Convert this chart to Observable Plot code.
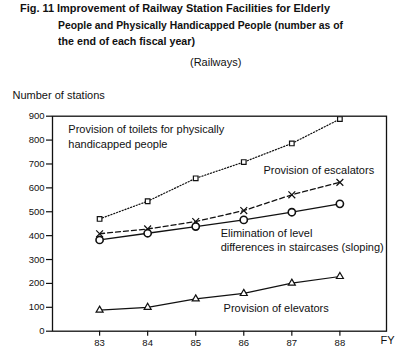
<!DOCTYPE html>
<html><head><meta charset="utf-8">
<script src="https://cdn.jsdelivr.net/npm/d3@7"></script>
<script src="https://cdn.jsdelivr.net/npm/@observablehq/plot@0.6"></script>
<style>
body{margin:0;background:#fff;font-family:"Liberation Sans",Arial,sans-serif;color:#111}
#wrap{position:relative;width:409px;height:355px;overflow:hidden}
#head{position:relative;height:80px}
.t{position:absolute;white-space:nowrap;font-weight:bold;font-size:10.7px;line-height:1;transform-origin:0 0}
.r{position:absolute;white-space:nowrap;font-size:11px;line-height:1}
svg{display:block}
</style></head>
<body><div id="wrap">
<div id="head">
<div class="t" id="t1" style="left:20px;top:2.7px">Fig. 11 Improvement of Railway Station Facilities for Elderly</div>
<div class="t" id="t2" style="left:58px;top:20.3px">People and Physically Handicapped People (number as of</div>
<div class="t" id="t3" style="left:58px;top:36px">the end of each fiscal year)</div>
<div class="r" style="left:190px;top:56.7px">(Railways)</div>
</div>
<div id="chart"></div>
</div>
<script>
const years = [83, 84, 85, 86, 87, 88];
const yTicks = [0, 100, 200, 300, 400, 500, 600, 700, 800, 900];
const toilets = [470, 544, 640, 708, 786, 888];
const escalators = [408, 428, 459, 505, 571, 623];
const levels = [382, 410, 438, 466, 498, 533];
const elevators = [88, 100, 135, 158, 201, 229];
const seriesNames = ["toilets", "escalators", "levels", "elevators"];
const labelTexts = [
  "Provision of toilets for physically\nhandicapped people",
  "Provision of escalators",
  "Elimination of level\ndifferences in staircases (sloping)",
  "Provision of elevators"
];
const labelYear = [82.35, 86.41, 85.52, 85.58];
const labelValue = [817, 677, 384, 100];
const yAxisTitle = "Number of stations";
const xAxisTitle = "FY";

// fit title widths
const targets = {t1: 310, t2: 285, t3: 137};
for (const id in targets) {
  const el = document.getElementById(id);
  const w = el.getBoundingClientRect().width;
  el.style.transform = `scaleX(${targets[id] / w})`;
}

const valuesBy = {toilets, escalators, levels, elevators};
const rows = seriesNames.flatMap(s => years.map((year, i) => ({series: s, year, value: valuesBy[s][i]})));
const style = {
  toilets: {dash: "1.2,1.8", w: 1.2, symbol: "square", r: 2.6},
  escalators: {dash: "5,3", w: 1.3, symbol: "times", r: 3.2},
  levels: {dash: null, w: 1.3, symbol: "circle", r: 3.6},
  elevators: {dash: null, w: 1.2, symbol: "triangle", r: 2.6}
};
const labels = labelTexts.map((text, i) => ({text, year: labelYear[i], value: labelValue[i]}));

const marks = [];
for (const s of seriesNames) {
  const d = rows.filter(r => r.series === s);
  const st = style[s];
  marks.push(Plot.line(d, {x: "year", y: "value", stroke: "#111", strokeWidth: st.w, strokeDasharray: st.dash || undefined}));
}
for (const s of seriesNames) {
  const d = rows.filter(r => r.series === s);
  const st = style[s];
  marks.push(Plot.dot(d, {x: "year", y: "value", symbol: () => st.symbol, r: st.r, fill: "white", stroke: "#111", strokeWidth: s === "levels" ? 1.6 : 1.2}));
}

const chart = Plot.plot({
  width: 409,
  height: 275,
  marginTop: 35.7,
  marginBottom: 24.3,
  marginLeft: 52,
  marginRight: 23,
  style: {fontFamily: "'Liberation Sans', Arial, sans-serif", fontSize: "9.5px", color: "#111", background: "white"},
  x: {domain: [82.02, 88.97]},
  y: {domain: [0, 900]},
  marks: [
    Plot.axisY({ticks: yTicks, tickSize: 6, tickPadding: 2, label: null, strokeWidth: 1.2}),
    Plot.axisX({ticks: years, tickSize: 5, tickPadding: 3, label: null, strokeWidth: 1.2, tickFormat: d => String(d)}),
    Plot.frame({stroke: "#111", strokeWidth: 1.3}),
    ...marks,
    Plot.text(labels, {x: "year", y: "value", text: "text", textAnchor: "start", lineAnchor: "middle", lineHeight: 1.3, fontSize: 11, fill: "#111"}),
    Plot.text([yAxisTitle], {frameAnchor: "top-left", textAnchor: "start", lineAnchor: "bottom", dx: -40, dy: -17, fontSize: 11, fill: "#111"}),
    Plot.text([xAxisTitle], {frameAnchor: "bottom-right", textAnchor: "start", lineAnchor: "top", dx: -6, dy: 5, fontSize: 11, fill: "#111"})
  ]
});
document.getElementById("chart").appendChild(chart);
</script>
</body></html>
